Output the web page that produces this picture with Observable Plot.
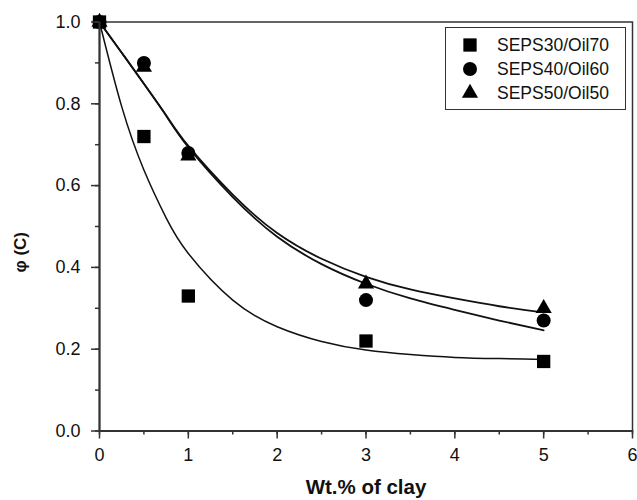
<!DOCTYPE html>
<html>
<head>
<meta charset="utf-8">
<script src="https://cdn.jsdelivr.net/npm/d3@7"></script>
<script src="https://cdn.jsdelivr.net/npm/@observablehq/plot@0.6"></script>
<style>
  body { margin: 0; background: #fff; }
  #chart { position: relative; width: 637px; height: 500px; font-family: "Liberation Sans", Arial, sans-serif; }
  #legend { position: absolute; left: 445px; top: 27px; width: 179px; height: 81px; border: 1.5px solid #333; background: #fff; }
  #legend .row { position: absolute; left: 0; height: 20px; }
  #legend svg { position: absolute; left: 13px; top: 0; }
  #legend span { position: absolute; left: 51px; top: 0; white-space: nowrap; font-size: 17.5px; color: #111; line-height: 20px; }
</style>
</head>
<body>
<div id="chart"></div>
<script>
// Clay loading (wt.%) and measured phi(C) for each blend
const clay = [0, 0.5, 1, 3, 5];
const seps30 = [1.0, 0.72, 0.33, 0.22, 0.17];
const seps40 = [1.0, 0.90, 0.68, 0.32, 0.27];
const seps50 = [1.0, 0.89, 0.673, 0.36, 0.30];

// Fitted decay curves, sampled along the clay axis
const fitClay = [0, 0.25, 0.5, 0.75, 1, 1.5, 2, 2.5, 3, 3.5, 4, 4.5, 5];
const fit30 = [1.0, 0.793, 0.638, 0.521, 0.434, 0.32, 0.255, 0.219, 0.198, 0.187, 0.18, 0.177, 0.175];
const fit40 = [1.0, 0.925, 0.849, 0.771, 0.694, 0.572, 0.475, 0.408, 0.36, 0.324, 0.296, 0.27, 0.246];
const fit50 = [1.0, 0.925, 0.849, 0.772, 0.697, 0.578, 0.484, 0.421, 0.377, 0.346, 0.324, 0.305, 0.29];

const seriesNames = ["SEPS30/Oil70", "SEPS40/Oil60", "SEPS50/Oil50"];
const xTicks = [0, 1, 2, 3, 4, 5, 6];
const xMinor = [0, 0.5, 1, 1.5, 2, 2.5, 3, 3.5, 4, 4.5, 5, 5.5, 6];
const yTicks = [0, 0.2, 0.4, 0.6, 0.8, 1.0];
const yMinor = [0, 0.1, 0.2, 0.3, 0.4, 0.5, 0.6, 0.7, 0.8, 0.9, 1.0];

const measured = [seps30, seps40, seps50];
const fitted = [fit30, fit40, fit50];
const symbols = ["square", "circle", "triangle"];
const radii = [7.5, 7, 6];
const fitWidths = [1.5, 1.8, 1.8];

const pts = measured.map(vals => clay.map((c, i) => ({clay: c, phi: vals[i]})));
const fits = fitted.map(vals => fitClay.map((c, i) => ({clay: c, phi: vals[i]})));

const font = "Liberation Sans, Arial, sans-serif";

const plot = Plot.plot({
  width: 637,
  height: 500,
  marginLeft: 99,
  marginRight: 5,
  marginTop: 21.5,
  marginBottom: 69.5,
  style: {fontFamily: font, fontSize: "18px", color: "#111", background: "white"},
  x: {domain: [0, 6]},
  y: {domain: [0, 1]},
  marks: [
    Plot.frame({stroke: "#333", strokeWidth: 1.5}),
    // fitted curves
    ...fits.map((d, k) => Plot.line(d, {x: "clay", y: "phi", curve: "natural", stroke: "#111", strokeWidth: fitWidths[k]})),
    // measured points
    ...pts.map((d, k) => Plot.dot(d, {x: "clay", y: "phi", symbol: symbols[k], r: radii[k], fill: "black", stroke: "none"})),
    // axes
    Plot.axisX({ticks: xMinor, tickSize: 4, tickFormat: () => "", label: null, stroke: "#333", strokeWidth: 1.5}),
    Plot.axisX({ticks: xTicks, tickSize: 8, tickPadding: 9, tickFormat: d3.format("d"), label: null, fontSize: 18, stroke: "#333", strokeWidth: 1.5}),
    Plot.axisY({ticks: yMinor, tickSize: 4, tickFormat: () => "", label: null, stroke: "#333", strokeWidth: 1.5}),
    Plot.axisY({ticks: yTicks, tickSize: 8, tickPadding: 11, tickFormat: d3.format(".1f"), label: null, fontSize: 18, stroke: "#333", strokeWidth: 1.5}),
    Plot.ruleY([0], {stroke: "#333", strokeWidth: 2}),
    Plot.ruleX([0], {stroke: "#333", strokeWidth: 2}),
    // axis titles
    Plot.text(["Wt.% of clay"], {frameAnchor: "bottom", dy: 63, fontWeight: "bold", fontSize: 20.5, fill: "#111"}),
    Plot.text(["\u03c6 (C)"], {frameAnchor: "left", rotate: -90, dx: -79, dy: 46, fontWeight: "bold", fontSize: 17, fill: "#111"})
  ]
});

const chart = document.getElementById("chart");
chart.appendChild(plot);

// Legend box
const legend = d3.select(chart).append("div").attr("id", "legend");
const legendSymbols = [d3.symbolSquare, d3.symbolCircle, d3.symbolTriangle];
seriesNames.forEach((name, i) => {
  const row = legend.append("div").attr("class", "row").style("top", (7 + i * 24) + "px");
  row.append("svg").attr("width", 22).attr("height", 20)
    .append("path")
    .attr("transform", "translate(11,10)")
    .attr("d", d3.symbol(legendSymbols[i], Math.PI * radii[i] * radii[i])())
    .attr("fill", "black");
  row.append("span").text(name);
});
</script>
</body>
</html>
